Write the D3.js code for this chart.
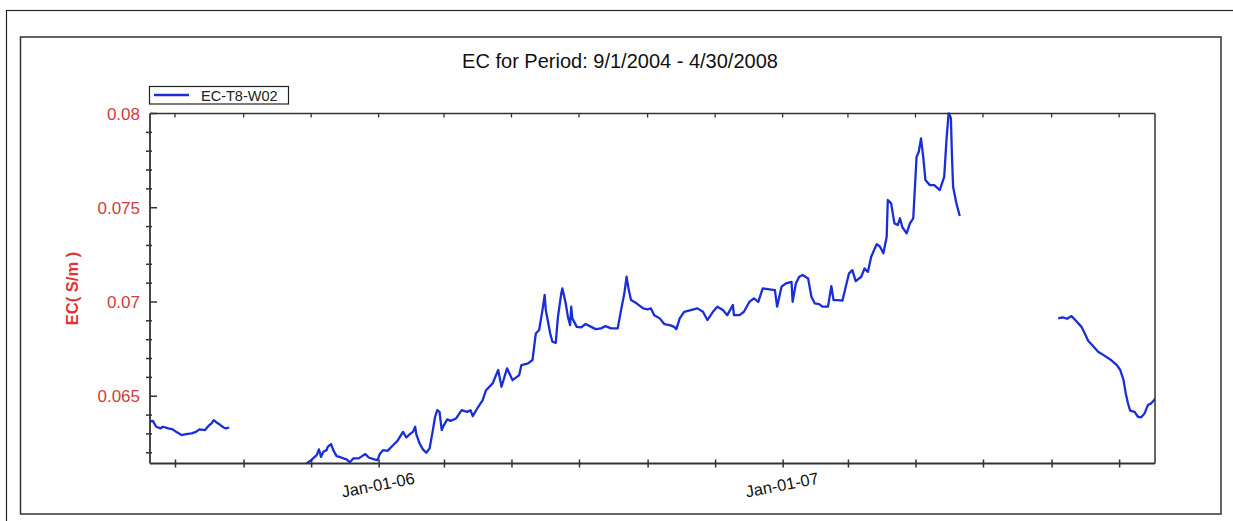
<!DOCTYPE html>
<html>
<head>
<meta charset="utf-8">
<script src="https://cdn.jsdelivr.net/npm/d3@7"></script>
<style>
  html, body { margin: 0; padding: 0; background: #fff; }
  svg { display: block; font-family: Arial, "Liberation Sans", sans-serif; }
</style>
</head>
<body>
<svg id="chart" width="1233" height="521"></svg>
<script>
// ---------------- DATA ----------------
const chartTitle = "EC for Period: 9/1/2004 - 4/30/2008";
const yAxisTitle = "EC( S/m )";
const seriesName = "EC-T8-W02";

const yMajorTicks = [0.065, 0.07, 0.075, 0.08];
const yTickLabels = ["0.065", "0.07", "0.075", "0.08"];
const yMinorTicks = [0.062, 0.063, 0.064, 0.066, 0.067, 0.068, 0.069, 0.071, 0.072, 0.073, 0.074, 0.076, 0.077, 0.078, 0.079];
const xLabelledTicks = ["2006-01-01", "2007-01-01"];
const xTickLabels = ["Jan-01-06", "Jan-01-07"];

const seg1Dates = ["2005-06-07","2005-06-11","2005-06-14","2005-06-18","2005-06-20","2005-06-25","2005-06-29","2005-07-02","2005-07-07","2005-07-11","2005-07-16","2005-07-20","2005-07-23","2005-07-28","2005-07-31","2005-08-03","2005-08-05","2005-08-08","2005-08-11","2005-08-14","2005-08-16","2005-08-19"];
const seg1EC = [0.06364,0.06369,0.06338,0.06329,0.06338,0.06329,0.06324,0.06311,0.06294,0.06299,0.06303,0.06311,0.06324,0.06320,0.06341,0.06356,0.06373,0.06359,0.06347,0.06334,0.06329,0.06334];

const seg2Dates = ["2005-10-27","2005-10-28","2005-11-01","2005-11-06","2005-11-08","2005-11-10","2005-11-12","2005-11-15","2005-11-16","2005-11-19","2005-11-21","2005-11-24","2005-11-28","2005-12-03","2005-12-06","2005-12-09","2005-12-14","2005-12-17","2005-12-20","2005-12-23","2005-12-28","2005-12-31",
"2006-01-02","2006-01-05","2006-01-09","2006-01-14","2006-01-18","2006-01-23","2006-01-26","2006-01-30","2006-02-01","2006-02-03","2006-02-04","2006-02-07","2006-02-10","2006-02-13","2006-02-16","2006-02-19","2006-02-21","2006-02-23","2006-02-25","2006-02-27",
"2006-03-01","2006-03-04","2006-03-07","2006-03-12","2006-03-17","2006-03-22","2006-03-25","2006-03-27","2006-04-01","2006-04-05","2006-04-08","2006-04-14","2006-04-19","2006-04-22","2006-04-27","2006-05-02","2006-05-08","2006-05-10","2006-05-16","2006-05-20",
"2006-05-23","2006-05-26","2006-05-29","2006-05-31","2006-06-01","2006-06-03","2006-06-05","2006-06-07","2006-06-10","2006-06-12","2006-06-15","2006-06-16","2006-06-19","2006-06-21","2006-06-23","2006-06-24","2006-06-25","2006-06-29",
"2006-07-03","2006-07-07","2006-07-12","2006-07-16","2006-07-21","2006-07-25","2006-07-30","2006-08-05","2006-08-08","2006-08-11","2006-08-13","2006-08-15","2006-08-17","2006-08-22","2006-08-28","2006-09-01","2006-09-04","2006-09-07","2006-09-12","2006-09-16","2006-09-21","2006-09-25","2006-09-27","2006-09-30",
"2006-10-04","2006-10-10","2006-10-16","2006-10-21","2006-10-25","2006-10-30","2006-11-03","2006-11-08","2006-11-12","2006-11-17","2006-11-18","2006-11-23","2006-11-27","2006-12-02","2006-12-06","2006-12-10","2006-12-14","2006-12-20","2006-12-25","2006-12-27","2006-12-31",
"2007-01-04","2007-01-09","2007-01-10","2007-01-13","2007-01-16","2007-01-19","2007-01-24","2007-01-27","2007-01-30","2007-02-03","2007-02-06","2007-02-11","2007-02-14","2007-02-16","2007-02-20","2007-02-24","2007-02-27",
"2007-03-02","2007-03-05","2007-03-08","2007-03-13","2007-03-16","2007-03-19","2007-03-22","2007-03-27","2007-03-30","2007-04-02","2007-04-05","2007-04-06","2007-04-09","2007-04-12","2007-04-15","2007-04-17","2007-04-19","2007-04-23","2007-04-26","2007-04-29",
"2007-05-02","2007-05-04","2007-05-06","2007-05-08","2007-05-10","2007-05-14","2007-05-18","2007-05-23","2007-05-27","2007-05-29","2007-05-31","2007-06-02","2007-06-03","2007-06-04","2007-06-07","2007-06-10"];
const seg2EC = [0.06135,0.06143,0.06161,0.06187,0.06218,0.06178,0.06205,0.06214,0.06231,0.06246,0.06214,0.06182,0.06175,0.06165,0.06149,0.06170,0.06170,0.06182,0.06193,0.06175,0.06165,0.06161,
0.06193,0.06214,0.06210,0.06240,0.06263,0.06311,0.06281,0.06303,0.06311,0.06338,0.06299,0.06249,0.06218,0.06200,0.06223,0.06320,0.06391,0.06426,0.06417,0.06320,
0.06347,0.06377,0.06369,0.06382,0.06426,0.06417,0.06426,0.06394,0.06444,0.06479,0.06532,0.06568,0.06639,0.06550,0.06648,0.06585,0.06612,0.06665,0.06674,0.06692,
0.06833,0.06851,0.06957,0.07037,0.06957,0.06895,0.06833,0.06789,0.06783,0.06921,0.07046,0.07072,0.06993,0.06921,0.06877,0.06975,0.06913,0.06868,
0.06865,0.06883,0.06868,0.06856,0.06860,0.06872,0.06860,0.06860,0.06957,0.07046,0.07134,0.07063,0.07010,0.06993,0.06966,0.06961,0.06966,0.06930,0.06913,0.06883,0.06877,0.06868,0.06856,0.06913,
0.06948,0.06957,0.06966,0.06948,0.06904,0.06948,0.06975,0.06957,0.06930,0.06984,0.06930,0.06930,0.06948,0.07001,0.07019,0.07001,0.07072,0.07067,0.07063,0.06975,0.07081,
0.07099,0.07107,0.07001,0.07099,0.07134,0.07143,0.07125,0.07028,0.06993,0.06989,0.06975,0.06975,0.07084,0.07010,0.07010,0.07007,0.07081,
0.07152,0.07169,0.07111,0.07134,0.07178,0.07159,0.07240,0.07307,0.07293,0.07258,0.07346,0.07541,0.07523,0.07417,0.07408,0.07444,0.07399,0.07364,0.07417,0.07444,
0.07771,0.07797,0.07868,0.07771,0.07647,0.07620,0.07620,0.07594,0.07665,0.07859,0.08005,0.07975,0.07771,0.07611,0.07523,0.07456];

const seg3Dates = ["2007-09-07","2007-09-11","2007-09-15","2007-09-19","2007-09-23","2007-09-28","2007-10-01","2007-10-04","2007-10-09","2007-10-13","2007-10-18","2007-10-24","2007-10-30","2007-11-02","2007-11-05","2007-11-07","2007-11-09","2007-11-11","2007-11-15","2007-11-18","2007-11-21","2007-11-24","2007-11-27","2007-11-30","2007-12-03","2007-12-04"];
const seg3EC = [0.06913,0.06918,0.06911,0.06925,0.06900,0.06868,0.06833,0.06794,0.06762,0.06736,0.06718,0.06695,0.06665,0.06639,0.06585,0.06515,0.06462,0.06423,0.06417,0.06391,0.06388,0.06409,0.06453,0.06462,0.06483,0.06490];

// ---------------- CHART ----------------
const parse = d3.timeParse("%Y-%m-%d");
const segments = [[seg1Dates, seg1EC], [seg2Dates, seg2EC], [seg3Dates, seg3EC]]
  .map(([ds, vs]) => ds.map((d, i) => ({ date: parse(d), value: vs[i] })));

const svg = d3.select("#chart");
const W = 1233, H = 521;
const plot = { left: 150, right: 1155, top: 113.5, bottom: 463.5 };

svg.append("rect").attr("width", W).attr("height", H).attr("fill", "#fff");

// outer and inner frames
svg.append("rect").attr("x", 6.5).attr("y", 10.5).attr("width", 1400).attr("height", 700)
  .attr("fill", "none").attr("stroke", "#222").attr("stroke-width", 1.2);
svg.append("rect").attr("x", 20.5).attr("y", 37).attr("width", 1200.5).attr("height", 477)
  .attr("fill", "none").attr("stroke", "#333").attr("stroke-width", 1.5);

const x = d3.scaleTime()
  .domain([new Date(2005, 5, 8, 10), new Date(2007, 11, 3, 10)])
  .range([plot.left, plot.right]);
const y = d3.scaleLinear()
  .domain([0.06143, 0.08])
  .range([plot.bottom, plot.top]);

// title
svg.append("text").attr("x", 620).attr("y", 68).attr("text-anchor", "middle")
  .attr("font-size", 20).attr("fill", "#111").text(chartTitle);

// clip
svg.append("clipPath").attr("id", "clip").append("rect")
  .attr("x", plot.left).attr("y", plot.top - 1)
  .attr("width", plot.right - plot.left).attr("height", plot.bottom - plot.top + 1);

// line
const line = d3.line().x(d => x(d.date)).y(d => y(d.value));
svg.append("g").attr("clip-path", "url(#clip)")
  .selectAll("path").data(segments).join("path")
  .attr("d", line).attr("fill", "none").attr("stroke", "#1a2ed8")
  .attr("stroke-width", 2.3).attr("stroke-linejoin", "round");

// plot border
const axisColor = "#333";
svg.append("line").attr("x1", plot.left).attr("x2", plot.right).attr("y1", plot.top).attr("y2", plot.top)
  .attr("stroke", axisColor).attr("stroke-width", 1.5);
svg.append("line").attr("x1", plot.right).attr("x2", plot.right).attr("y1", plot.top).attr("y2", plot.bottom)
  .attr("stroke", axisColor).attr("stroke-width", 1.5);
svg.append("line").attr("x1", plot.left).attr("x2", plot.right).attr("y1", plot.bottom).attr("y2", plot.bottom)
  .attr("stroke", axisColor).attr("stroke-width", 1.8);
svg.append("line").attr("x1", plot.left).attr("x2", plot.left).attr("y1", plot.top).attr("y2", plot.bottom)
  .attr("stroke", axisColor).attr("stroke-width", 1.8);

// x ticks (every 2 months)
const xTicks = d3.timeMonth.every(2).range(x.domain()[0], x.domain()[1]);
const labelMap = new Map(xLabelledTicks.map((d, i) => [+parse(d), xTickLabels[i]]));
const xAxis = d3.axisBottom(x).tickValues(xTicks).tickSize(0)
  .tickFormat(d => labelMap.get(+d) || "");
const gx = svg.append("g").attr("transform", `translate(0,${plot.bottom})`).call(xAxis);
gx.select(".domain").remove();
gx.selectAll(".tick line").attr("y1", -4).attr("y2", 4).attr("stroke", axisColor).attr("stroke-width", 1.5);
gx.selectAll(".tick text")
  .attr("y", 0).attr("dy", 0)
  .attr("transform", "translate(0,27) rotate(-11)")
  .attr("text-anchor", "middle").attr("font-size", 16.5)
  .attr("font-family", "Arial, 'Liberation Sans', sans-serif").attr("fill", "#111");

// top ticks
svg.append("g").selectAll("line").data(xTicks).join("line")
  .attr("x1", d => x(d)).attr("x2", d => x(d))
  .attr("y1", plot.top).attr("y2", plot.top + 4)
  .attr("stroke", axisColor).attr("stroke-width", 1.3);

// y ticks
svg.append("g").selectAll("line").data(yMajorTicks).join("line")
  .attr("x1", plot.left).attr("x2", plot.left + 7)
  .attr("y1", d => y(d)).attr("y2", d => y(d))
  .attr("stroke", axisColor).attr("stroke-width", 1.5);
svg.append("g").selectAll("line").data(yMinorTicks).join("line")
  .attr("x1", plot.left - 4).attr("x2", plot.left + 2)
  .attr("y1", d => y(d)).attr("y2", d => y(d))
  .attr("stroke", axisColor).attr("stroke-width", 1.5);
svg.append("g").selectAll("text").data(yMajorTicks).join("text")
  .attr("x", 140).attr("y", d => y(d) + 6)
  .attr("text-anchor", "end").attr("font-size", 17).attr("fill", "#d23c3c")
  .text((d, i) => yTickLabels[i]);

// y title
svg.append("text")
  .attr("transform", `translate(78,${(plot.top + plot.bottom) / 2}) rotate(-90)`)
  .attr("text-anchor", "middle").attr("font-size", 16.5).attr("font-weight", "bold")
  .attr("fill", "#e03434").text(yAxisTitle);

// legend
const lg = svg.append("g");
lg.append("rect").attr("x", 149.5).attr("y", 86.5).attr("width", 139).attr("height", 17.5)
  .attr("fill", "#fff").attr("stroke", "#222").attr("stroke-width", 1.2);
lg.append("line").attr("x1", 154).attr("x2", 189).attr("y1", 95).attr("y2", 95)
  .attr("stroke", "#1a2ed8").attr("stroke-width", 2.5);
lg.append("text").attr("x", 201).attr("y", 100.5).attr("font-size", 14.5).attr("fill", "#222")
  .text(seriesName);
</script>
</body>
</html>
